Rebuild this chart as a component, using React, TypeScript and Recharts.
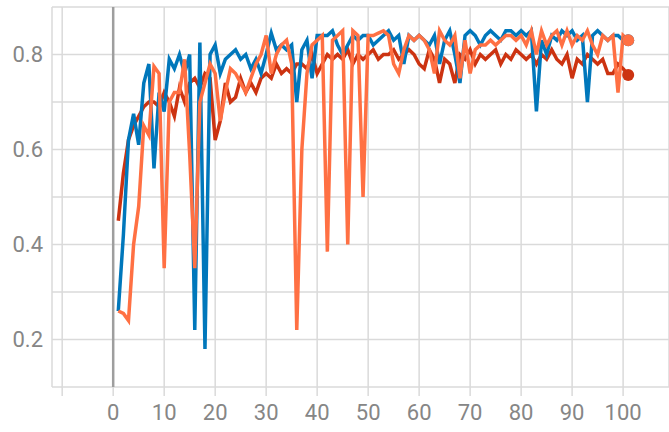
import { LineChart, Line, XAxis, YAxis, CartesianGrid, ReferenceLine } from 'recharts';

// training steps 1..101
const steps = Array.from({ length: 101 }, (_, i) => i + 1);

const blueRun = [
  0.26, 0.42, 0.62, 0.675, 0.61, 0.74, 0.78, 0.56, 0.72, 0.68,
  0.79, 0.77, 0.8, 0.76, 0.8, 0.22, 0.825, 0.18, 0.8, 0.82,
  0.76, 0.79, 0.8, 0.81, 0.79, 0.8, 0.77, 0.79, 0.76, 0.8,
  0.845, 0.81, 0.82, 0.81, 0.82, 0.7, 0.81, 0.83, 0.75, 0.84,
  0.84, 0.84, 0.85, 0.82, 0.8, 0.82, 0.84, 0.83, 0.84, 0.84,
  0.82, 0.83, 0.84, 0.85, 0.83, 0.84, 0.78, 0.84, 0.83, 0.84,
  0.83, 0.82, 0.84, 0.78, 0.83, 0.85, 0.8, 0.74, 0.84, 0.85,
  0.84, 0.82, 0.84, 0.85, 0.84, 0.83, 0.85, 0.85, 0.84, 0.85,
  0.84, 0.85, 0.68, 0.83, 0.8, 0.84, 0.83, 0.85, 0.84, 0.85,
  0.83, 0.84, 0.7, 0.84, 0.85, 0.84, 0.83, 0.84, 0.84, 0.83,
  0.83,
];

const orangeRun = [
  0.26, 0.255, 0.24, 0.4, 0.48, 0.65, 0.63, 0.775, 0.76, 0.35,
  0.7, 0.72, 0.72, 0.79, 0.59, 0.35, 0.7, 0.74, 0.78, 0.76,
  0.66, 0.72, 0.77, 0.76, 0.74, 0.72, 0.75, 0.78, 0.8, 0.84,
  0.76, 0.8, 0.82, 0.83, 0.78, 0.22, 0.6, 0.76, 0.82, 0.83,
  0.84, 0.385, 0.83, 0.84, 0.85, 0.4, 0.85, 0.84, 0.5, 0.84,
  0.84, 0.845, 0.85, 0.84, 0.78, 0.76, 0.81, 0.84, 0.83, 0.84,
  0.83, 0.81, 0.76, 0.85, 0.83, 0.82, 0.84, 0.75, 0.83, 0.76,
  0.81, 0.82, 0.82, 0.83, 0.82, 0.83, 0.84, 0.84, 0.83, 0.84,
  0.82, 0.85, 0.8, 0.85, 0.82, 0.84, 0.85, 0.82, 0.85, 0.82,
  0.84, 0.83, 0.85, 0.82, 0.8, 0.84, 0.83, 0.84, 0.72, 0.84,
  0.83,
];

const redRun = [
  0.45, 0.55, 0.62, 0.65, 0.67, 0.69, 0.7, 0.7, 0.69, 0.72,
  0.7, 0.67, 0.73, 0.7, 0.74, 0.75, 0.73, 0.76, 0.75, 0.62,
  0.66, 0.74, 0.7, 0.71, 0.75, 0.72, 0.74, 0.72, 0.75, 0.76,
  0.75, 0.78, 0.76, 0.77, 0.76, 0.78, 0.78, 0.77, 0.8, 0.76,
  0.78, 0.8, 0.79, 0.8, 0.79, 0.81, 0.78, 0.8, 0.79, 0.8,
  0.81, 0.79, 0.8, 0.8, 0.81, 0.79, 0.8, 0.81, 0.8, 0.78,
  0.77, 0.81, 0.79, 0.74, 0.79, 0.78, 0.74, 0.8, 0.79, 0.81,
  0.78, 0.8, 0.79, 0.8, 0.81, 0.78, 0.8, 0.79, 0.81, 0.8,
  0.79, 0.8, 0.78, 0.8, 0.79, 0.81, 0.79, 0.78, 0.8, 0.75,
  0.79, 0.78, 0.8, 0.79, 0.78, 0.79, 0.76, 0.76, 0.78, 0.77,
  0.757,
];

const xTicks = [-10, 0, 10, 20, 30, 40, 50, 60, 70, 80, 90, 100];
const yTicks = [0.1, 0.2, 0.3, 0.4, 0.5, 0.6, 0.7, 0.8, 0.9];

const data = steps.map((step, i) => ({
  step,
  blue: blueRun[i],
  orange: orangeRun[i],
  red: redRun[i],
}));

const last = data.length - 1;

const endDot = (color: string) => (props: any) => {
  const { cx, cy, index } = props;
  if (index !== last) return <g key={`d${index}`} />;
  return <circle key={`d${index}`} cx={cx} cy={cy} r={6} fill={color} />;
};

const tickStyle = { fontFamily: 'Roboto', fontSize: 22, fill: '#868686' };

export default function App() {
  return (
    <div style={{ position: 'absolute', left: 0, top: 0 }}>
      <LineChart width={669} height={432} data={data} margin={{ top: 7, right: 0, bottom: 0, left: 0 }}>
        <CartesianGrid stroke="#dadada" strokeWidth={1.5} />
        <XAxis
          dataKey="step"
          type="number"
          domain={[-12, 109]}
          ticks={xTicks}
          interval={0}
          height={45}
          axisLine={false}
          tickLine={{ stroke: '#dadada', strokeWidth: 1.5 }}
          tickSize={9}
          tickMargin={8}
          tick={tickStyle}
          tickFormatter={(v: number) => (v < 0 ? '' : String(v))}
        />
        <YAxis
          type="number"
          domain={[0.1, 0.9]}
          ticks={yTicks}
          interval={0}
          width={52}
          axisLine={false}
          tickLine={false}
          tickSize={0}
          tickMargin={9}
          tick={tickStyle}
          tickFormatter={(v: number) => (Math.round(v * 10) % 2 === 0 ? v.toFixed(1) : '')}
        />
        <ReferenceLine x={0} stroke="#9e9e9e" strokeWidth={2.5} />
        <Line dataKey="red" stroke="#cc3311" strokeWidth={3.5} dot={endDot('#cc3311')} isAnimationActive={false} />
        <Line dataKey="blue" stroke="#0077bb" strokeWidth={3.5} dot={endDot('#0077bb')} isAnimationActive={false} />
        <Line dataKey="orange" stroke="#ff7043" strokeWidth={3.5} dot={endDot('#ff7043')} isAnimationActive={false} />
      </LineChart>
    </div>
  );
}
